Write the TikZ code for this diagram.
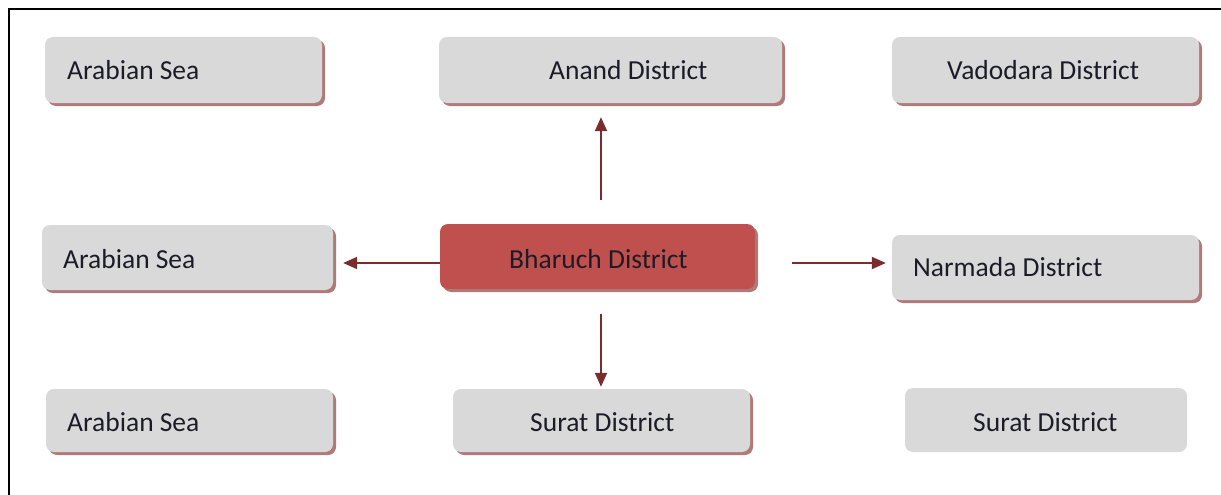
\documentclass[tikz,border=0pt]{standalone}
\usepackage{fontspec}
\setmainfont{Carlito}
\usetikzlibrary{arrows.meta,shadows}
\definecolor{boxgray}{HTML}{D9D9D9}
\definecolor{bhred}{HTML}{C0504D}
\definecolor{arrowred}{HTML}{7B2C2C}
\definecolor{shadowred}{HTML}{B07A7A}
\definecolor{textdark}{HTML}{1C1C28}
\begin{document}
\begin{tikzpicture}[x=1pt,y=-1pt,
  box/.style={fill=boxgray, rounded corners=8pt, inner sep=0pt},
  shade/.style={drop shadow={shadow xshift=3pt, shadow yshift=-3pt, fill=shadowred, opacity=1}},
  lbl/.style={font=\fontsize{27.5}{33}\selectfont, inner sep=0pt, text=textdark},
  arr/.style={draw=arrowred, line width=2pt, -{Triangle[length=14pt,width=12pt]}}]
\useasboundingbox (0,0) rectangle (1221,495);
% frame: top and left rules only
\draw[line width=2pt] (1221,9) -- (9,9) -- (9,495);

% top row
\node[box, shade, minimum width=277pt, minimum height=66pt] (as1) at (183.5,70) {};
\node[lbl, anchor=base west] (as1t) at (67,80) {Arabian Sea};
\node[box, shade, minimum width=343pt, minimum height=66pt] (an) at (610.5,70) {};
\node[lbl, anchor=base west] (ant) at (549,80) {Anand District};
\node[box, shade, minimum width=307pt, minimum height=66pt] (va) at (1045.5,70) {};
\node[lbl, anchor=base west] (vat) at (947,80) {Vadodara District};

% middle row
\node[box, shade, minimum width=291pt, minimum height=65pt] (as2) at (187.5,257.5) {};
\node[lbl, anchor=base west] (as2t) at (63,268) {Arabian Sea};
\node[box, shade, fill=bhred, minimum width=315pt, minimum height=65pt] (bh) at (597.5,256.5) {};
\node[lbl, anchor=base west] (bht) at (509,268) {Bharuch District};
\node[box, shade, minimum width=307pt, minimum height=65pt] (na) at (1045.5,267.5) {};
\node[lbl, anchor=base west] (nat) at (913,276) {Narmada District};

% bottom row
\node[box, shade, minimum width=287pt, minimum height=63pt] (as3) at (189.5,420.5) {};
\node[lbl, anchor=base west] (as3t) at (67,431) {Arabian Sea};
\node[box, shade, minimum width=297pt, minimum height=63pt] (su1) at (601.5,420.5) {};
\node[lbl, anchor=base west] (su1t) at (530,431) {Surat District};
\node[box, minimum width=282pt, minimum height=64pt] (su2) at (1046,420) {};
\node[lbl, anchor=base west] (su2t) at (973,431) {Surat District};

% connectors from the centre box
\draw[arr, shorten <=24pt, shorten >=14pt] ([xshift=3.5pt]bh.north) -- ([xshift=-9.5pt]an.south);
\draw[arr, shorten >=10pt] ([yshift=-6.5pt]bh.west) -- ([yshift=-5.5pt]as2.east);
\draw[arr, shorten <=37pt, shorten >=6pt] ([yshift=-6.5pt]bh.east) -- ([yshift=4.5pt]na.west);
\draw[arr, shorten <=25pt, shorten >=2pt] ([xshift=3.5pt]bh.south) -- ([xshift=-0.5pt]su1.north);
\end{tikzpicture}
\end{document}
